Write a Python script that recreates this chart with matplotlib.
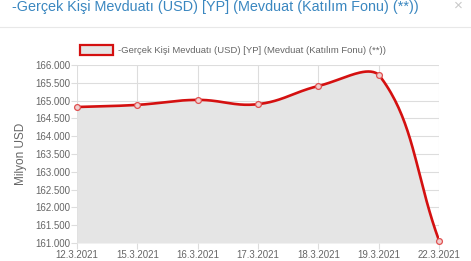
import matplotlib
matplotlib.use("Agg")
import matplotlib.pyplot as plt
import numpy as np

dates = ["12.3.2021", "15.3.2021", "16.3.2021", "17.3.2021", "18.3.2021", "19.3.2021", "22.3.2021"]
values = [164.82, 164.88, 165.02, 164.90, 165.41, 165.73, 161.07]
yticks = [161.0, 161.5, 162.0, 162.5, 163.0, 163.5, 164.0, 164.5, 165.0, 165.5, 166.0]
ytick_labels = ["161.000", "161.500", "162.000", "162.500", "163.000", "163.500",
                "164.000", "164.500", "165.000", "165.500", "166.000"]
title = "-Gerçek Kişi Mevduatı (USD) [YP] (Mevduat (Katılım Fonu) (**))"
ylabel = "Milyon USD"

plt.rcParams['font.family'] = ['Liberation Sans', 'DejaVu Sans']

W, H = 471, 261
fig = plt.figure(figsize=(W / 100, H / 100), dpi=100)
fig.patch.set_facecolor("white")

L, R, T, B = 77, 439, 65, 243
ax = fig.add_axes([L / W, 1 - B / H, (R - L) / W, (B - T) / H])
ax.set_facecolor("white")
x = np.arange(len(dates))
ax.set_xlim(0, len(dates) - 1)
ax.set_ylim(161.0, 166.0)

# Chart.js style cardinal spline (tension 0.4) computed in pixel space,
# with control points capped to the chart area
fig.canvas.draw()
pts = ax.transData.transform(np.column_stack([x, values]))
bbox = ax.get_window_extent()
t = 0.4
n = len(pts)
cps = []
for i in range(n):
    prev = pts[i - 1] if i > 0 else pts[i]
    cur = pts[i]
    nxt = pts[i + 1] if i < n - 1 else pts[i]
    d01 = np.hypot(*(cur - prev))
    d12 = np.hypot(*(nxt - cur))
    tot = d01 + d12
    s01 = d01 / tot if tot else 0
    s12 = d12 / tot if tot else 0
    cp_prev = cur - t * s01 * (nxt - prev)
    cp_next = cur + t * s12 * (nxt - prev)
    for cp in (cp_prev, cp_next):
        cp[0] = min(max(cp[0], bbox.x0), bbox.x1)
        cp[1] = min(max(cp[1], bbox.y0), bbox.y1)
    cps.append((cp_prev, cp_next))
curve = []
ss = np.linspace(0, 1, 40)
for i in range(n - 1):
    p0 = pts[i]; p1 = cps[i][1]; p2 = cps[i + 1][0]; p3 = pts[i + 1]
    for s in (ss[:-1] if i < n - 2 else ss):
        c = ((1 - s) ** 3) * p0 + 3 * ((1 - s) ** 2) * s * p1 + 3 * (1 - s) * s * s * p2 + s ** 3 * p3
        curve.append(c)
curve = np.array(curve)
curve_data = ax.transData.inverted().transform(curve)

ax.fill_between(curve_data[:, 0], curve_data[:, 1], 161.0, color="#e5e5e5", zorder=1, linewidth=0)
ax.plot(curve_data[:, 0], curve_data[:, 1], color="#d41010", lw=1.9, zorder=3, solid_capstyle="round")
ax.plot(x, values, linestyle="none", marker="o", ms=4.2, mfc="#f0d0d0", mec="#e05050", mew=0.9, zorder=4,
        clip_on=False)

ax.set_xticks(x)
ax.set_xticklabels(dates)
ax.set_yticks(yticks)
ax.set_yticklabels(ytick_labels)
ax.grid(True, color="#dddddd", lw=0.8, zorder=0)
ax.set_axisbelow(True)
for sp in ax.spines.values():
    sp.set_visible(False)
ax.tick_params(axis="both", colors="#dddddd", labelcolor="#666666", labelsize=7, length=4, width=0.8)
ax.tick_params(axis="x", pad=1)
ax.tick_params(axis="y", pad=1)
ax.set_ylabel(ylabel, color="#666666", fontsize=8.5, labelpad=6)

# Title (cut off at top) and separator
fig.text(12 / W, 1 - 11 / H, title, color="#3a87c0", fontsize=10.4, ha="left", va="baseline")
fig.text(458 / W, 1 - 10 / H, "×", color="#c8c8c8", fontsize=11, ha="center", va="baseline")
fig.add_artist(plt.Line2D([0, 1], [1 - 26.5 / H, 1 - 26.5 / H], color="#e8e8e8", lw=0.8))

# Legend
fig.add_artist(plt.Rectangle((80 / W, 1 - 54.5 / H), 33 / W, 10 / H, facecolor="#e5e5e5",
                             edgecolor="#d41010", lw=1.6))
fig.text(118 / W, 1 - 50 / H, title, color="#666666", fontsize=6.8, ha="left", va="center")

fig.savefig("out.png", dpi=100)
